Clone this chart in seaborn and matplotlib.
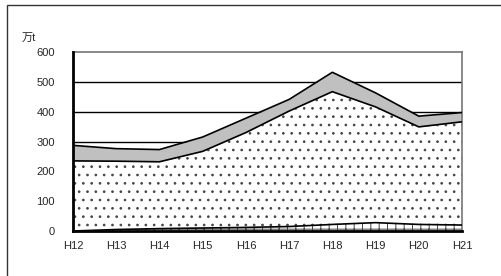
import numpy as np
import pandas as pd
import seaborn as sns
import matplotlib.pyplot as plt
from matplotlib.patches import Rectangle

years = ["H12", "H13", "H14", "H15", "H16", "H17", "H18", "H19", "H20", "H21"]
bottom_vals = [0, 5, 8, 10, 12, 15, 22, 28, 22, 20]
middle_cum = [235, 234, 232, 267, 330, 402, 467, 416, 349, 366]
total_vals = [287, 276, 273, 315, 378, 441, 532, 463, 385, 397]
yticks = [0, 100, 200, 300, 400, 500, 600]

sns.set_style("white")
plt.rcParams["font.family"] = ["Liberation Sans", "Noto Sans CJK JP", "DejaVu Sans"]
plt.rcParams["hatch.linewidth"] = 0.7

x = np.arange(len(years))
bottom = np.array(bottom_vals)
middle = np.array(middle_cum) - bottom
top = np.array(total_vals) - np.array(middle_cum)

df = pd.DataFrame({"x": x, "b": bottom, "m": bottom + middle, "t": bottom + middle + top})

fig = plt.figure(figsize=(5.01, 2.76), dpi=100)
fig.patches.append(Rectangle((7 / 501, -0.1), 1.0, 1 - 5 / 276 + 0.1, transform=fig.transFigure,
                             fill=False, edgecolor="#333333", linewidth=1.0))
ax = fig.add_axes([73 / 501, (276 - 231) / 276, (462 - 73) / 501, (231 - 52) / 276])

for v in yticks[1:-1]:
    ax.axhline(v, color="black", linewidth=1.0, zorder=0)

polys = ax.stackplot(x, bottom, middle, top, colors=["white", "white", "#c0c0c0"],
                     edgecolor="#444444", linewidth=0, zorder=2)
polys[0].set_hatch("++")
polys[1].set_hatch("..")

for col in ["b", "m", "t"]:
    sns.lineplot(data=df, x="x", y=col, ax=ax, color="black", linewidth=1.2, zorder=3)

ax.set_xlim(0, 9)
ax.set_ylim(0, 600)
ax.set_xticks(x)
ax.set_xticklabels(years)
ax.set_yticks(yticks)
ax.set_xlabel("")
ax.set_ylabel("")
ax.tick_params(axis="y", length=0, pad=13, labelsize=8)
ax.tick_params(axis="x", length=0, pad=7, labelsize=8)

for side in ["top", "right"]:
    ax.spines[side].set_color("#777777")
    ax.spines[side].set_linewidth(1.2)
for side in ["left", "bottom"]:
    ax.spines[side].set_color("black")
    ax.spines[side].set_linewidth(2)
    ax.spines[side].set_zorder(5)

fig.text(22 / 501, 1 - 38 / 276, "万t", fontsize=8, va="center", ha="left")

fig.savefig("out.png", dpi=100)
